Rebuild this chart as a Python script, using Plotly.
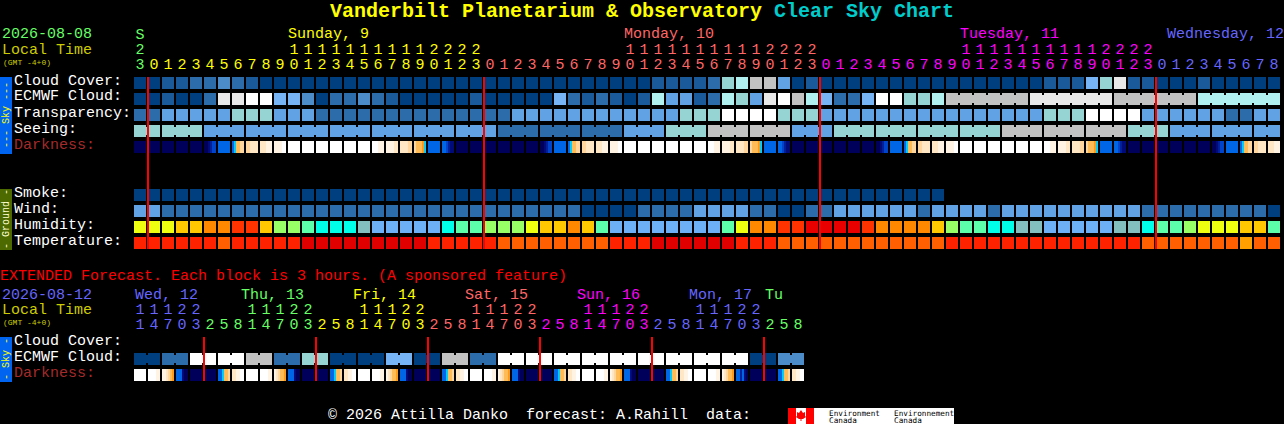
import plotly.graph_objects as go

W = 1284
H = 424
FONT = "Liberation Mono"

# colour codes used by the block rows
block_colors = {
    # cloud, transparency, seeing, wind, smoke
    "A": "#003f7f", "B": "#1a5a9a", "C": "#2c6cab", "D": "#4c8cc9", "E": "#60a2e4", "F": "#76b4f6",
    "G": "#96d3d3", "H": "#b0f0f0", "I": "#c2c2c2", "J": "#e8e8e8", "K": "#ffffff",
    # humidity
    "Y": "#eeff10", "O": "#ffc800", "R": "#ff8800", "S": "#ff3300", "T": "#e80000",
    "L": "#99ff66", "M": "#5cffaa", "N": "#00ffe8", "P": "#84bfbf", "Q": "#6db0f6",
    # temperature
    "a": "#e00000", "b": "#ff2200", "c": "#ff5f00", "d": "#ff9f00",
}
dark_levels = ["#00005a", "#000a78", "#00209a", "#0044cc", "#0066e6", "#00ccff",
               "#ff9a1a", "#ffbb55", "#ffd79e", "#ffe6c4", "#fff4e4", "#ffffff"]

# hourly rows, one letter per hour, 82 hours
cloud_cover = ("AABBCCDCBA" "AAAAAAAAAA" "AAAAAAAAAA" "AAAAAAABBB" "BCGHIIEABA"
               "AAAAAAAAAA" "AAAAABBBFG" "JBBAAABAAAAA")
ecmwf_cloud = ("AABAACJJKK" "FFDACCDCBA" "AAAABAAAAA" "FCBCBABHEE" "BCHGEJKIHF"
               "CCFKKGGH" "IIIIII" "JJJJJJ" "IIIIII" "HHHHHH")
transparency = ("CCEEEEEGGG" "EEECCCCCCC" "CCCCCCCEEE" "EEEEEEEEEG" "GGKKKKGGGE"
                "EEEEEEEEEE" "EEEEEGGGKK" "KKEEEEEECCEE")
seeing = ("GGGGG" "EEEEEEEEEEEEEEEEEEEEE" "CCCCCCCCC" "EEE" "GGG" "IIIIII" "EEE"
          "GGGGGGGGGGGG" "IIIIIIIII" "GGG" "EEEEEEEE")
smoke = "A" * 58 + "." * 24
wind = ("EE" "CCCCCCCCCCCCCCCCCCCCCCCCCCCCCC" "AAAA" "CCCC" "EEEE" "CC" "AA" "CC"
        "EEEEEE" "C" "EEEE" "C" "EEEEEEEEEE" "CCCCCCCCC" "A")
humidity = ("YYYOORRSSO" "LLMNNNPQQQ" "QQNMMLLLYO" "OROMQQQQQQ" "QQMYRRSSTT"
            "TTSRRRROLM" "MNNPPQQQQQ" "PPNMMLYYYOOM")
temperature = ("bbbbbb" "c" "bbbbb" "aaaaaaaaa" "bbbbb" "cccccccc" "bbb" "aaaaaa" "bbb"
               "cccccccccccc" "bbbbbbbbbbbbbb" "ccccccc" "d" "cc")

# darkness, six shades per hour block (hex index into dark_levels)
darkness = [
    "000000", "000000", "000000", "000000", "000000", "001233", "444444", "457788",
    "889999", "999aaa", "aaaabb", "bbbbbb", "bbbbbb", "bbbbbb", "bbbbbb", "bbbbbb",
    "bbbbbb", "bbbaaa", "aaaa99", "999988", "877765", "444444", "443211", "000000",
    "000000", "000000", "000000", "000000", "000000", "001233", "444444", "457788",
    "889999", "999aaa", "aaaabb", "bbbbbb", "bbbbbb", "bbbbbb", "bbbbbb", "bbbbbb",
    "bbbbbb", "bbbaaa", "aaaa99", "999988", "877765", "444444", "443211", "000000",
    "000000", "000000", "000000", "000000", "000000", "001233", "444444", "457788",
    "889999", "999aaa", "aaaabb", "bbbbbb", "bbbbbb", "bbbbbb", "bbbbbb", "bbbbbb",
    "bbbbbb", "bbbaaa", "aaaa99", "999988", "877765", "444444", "443211", "000000",
    "000000", "000000", "000000", "000000", "000000", "001233", "444444", "457788",
    "889999", "999aaa",
]

# extended forecast, 3 hour blocks, 48 of them
ext_ecmwf = "AACCKKKKIICCGGAAAAFFAAIICC" "KKKKKKKKKKKKKKKKKK" "AADD"
ext_darkness = [
    "bbbbbb", "bbbbaa", "aa9876", "444100", "000000", "000000", "445778", "99aabb",
    "bbbbbb", "bbbbaa", "a98776", "444100", "000000", "000000", "445778", "99aabb",
    "bbbbbb", "bbbbaa", "a98776", "444100", "000000", "000000", "445778", "99aabb",
    "bbbbbb", "bbbbaa", "a98776", "444100", "000000", "000000", "445778", "99aabb",
    "bbbbbb", "bbbbaa", "a98776", "444100", "000000", "000000", "445778", "99aabb",
    "bbbbbb", "bbbbaa", "a98776", "442410", "000000", "000000", "445778", "99aabb",
]

# first hour of the merged blocks in the seeing and ecmwf rows
seeing_groups = [0, 2, 5, 8, 11, 14, 17, 20, 23, 26, 29, 32, 35, 38, 41, 44, 47, 50, 53, 56, 59, 62, 65, 68, 71, 74, 77, 80, 82]
ecmwf_groups = [58, 64, 70, 76, 82]
ext_groups = [0, 2, 4, 6, 8, 10, 12, 14, 16, 18, 20, 22, 24, 26, 28, 30, 32, 34, 36, 38, 40, 42, 44, 46, 48]

# hour labels
hour_tens = ("2" "          " "1111111111" "2222" "          " "1111111111" "2222"
             "          " "1111111111" "2222" "         ")
hour_units = ("3" "012345678901234567890123" "012345678901234567890123"
              "012345678901234567890123" "012345678")
ext_tens = "11122   11122   11122   11122   11122   11122   "
ext_units = "14703" "25814703" "25814703" "25814703" "25814703" "25814703" "258"

GREEN = "#66ff66"
YELLOW = "#ffff00"
SALMON = "#ff6666"
MAGENTA = "#ff00ff"
BLUE = "#6666ff"
OLIVE_TEXT = "#cccc00"
BROWN = "#a52a2a"

hour_colors = [GREEN] + [YELLOW] * 24 + [SALMON] * 24 + [MAGENTA] * 24 + [BLUE] * 9
ext_colors = [BLUE] * 5 + [GREEN] * 8 + [YELLOW] * 8 + [SALMON] * 8 + [MAGENTA] * 8 + [BLUE] * 8 + [GREEN] * 3

# midnight marks, in hour blocks
midnight_cols = [0.571, 24.571, 48.571, 72.571]
ext_midnight_cols = [4.571, 12.571, 20.571, 28.571, 36.571, 44.571]

main_rows = [
    (0, cloud_cover), (1, ecmwf_cloud), (2, transparency), (3, seeing),
    (7, smoke), (8, wind), (9, humidity), (10, temperature),
]

for _, row in main_rows:
    assert len(row) == 82
assert len(hour_tens) == 82 and len(hour_units) == 82 and len(darkness) == 82
assert len(ext_ecmwf) == 48 and len(ext_units) == 48 and len(ext_darkness) == 48


def stepped_scale(colors):
    n = len(colors)
    scale = []
    for k, c in enumerate(colors):
        scale.append([k / n, c])
        scale.append([(k + 1) / n, c])
    return scale


letters = list(block_colors)
block_scale = stepped_scale([block_colors[k] for k in letters])
dark_scale = stepped_scale(dark_levels)


def block_z(row):
    return [None if c == "." else letters.index(c) + 0.5 for c in row]


def dark_z(cells):
    # every block is 6 shades of 2px, then one empty 2px gap
    z = []
    for cell in cells:
        z += [int(c, 16) + 0.5 for c in cell] + [None]
    return z


def px_x(x):
    return x / W


def px_y(y):
    return 1 - y / H


fig = go.Figure()

# block rows, row pitch 16px and hour pitch 14px
n_rows = 11
z = [[None] * 82 for _ in range(n_rows)]
for r, row in main_rows:
    z[r] = block_z(row)
fig.add_trace(go.Heatmap(
    z=z, x=list(range(82)), y=list(range(n_rows)), xgap=2, ygap=4, colorscale=block_scale,
    zmin=0, zmax=len(letters), showscale=False, hoverinfo="skip",
))
fig.add_trace(go.Heatmap(
    z=[block_z(ext_ecmwf)], x=list(range(48)), y0=17.25, dy=1, xgap=2, ygap=4, colorscale=block_scale,
    zmin=0, zmax=len(letters), showscale=False, hoverinfo="skip",
))

# darkness rows with the shades inside each block
for cells, y in [(darkness, 4), (ext_darkness, 18.25)]:
    fig.add_trace(go.Heatmap(
        z=[dark_z(cells)], x0=-5 / 14, dx=2 / 14, y0=y, dy=0.75, colorscale=dark_scale,
        zmin=0, zmax=len(dark_levels), showscale=False, hoverinfo="skip",
    ))


# merged blocks are joined by a narrow bridge
def add_bridges(row, y, groups):
    for first, last in zip(groups[:-1], groups[1:]):
        if last - first > 1:
            fig.add_trace(go.Scatter(
                x=[first, last - 1], y=[y, y], mode="lines",
                line=dict(color=block_colors[row[first]], width=8),
                hoverinfo="skip", showlegend=False,
            ))


add_bridges(seeing, 3, seeing_groups)
add_bridges(ecmwf_cloud, 1, ecmwf_groups)
add_bridges(ext_ecmwf, 17.25, ext_groups)

# red midnight lines
for cols, y0, y1 in [(midnight_cols, -0.375, 10.375), (ext_midnight_cols, 15.875, 18.625)]:
    xs, ys = [], []
    for c in cols:
        xs += [c, c, None]
        ys += [y0, y1, None]
    fig.add_trace(go.Scatter(x=xs, y=ys, mode="lines", line=dict(color="#ff0000", width=2),
                             hoverinfo="skip", showlegend=False))


# hour digits over the columns
def add_digits(text, colors, y):
    fig.add_trace(go.Scatter(
        x=list(range(len(text))), y=[y] * len(text), mode="text", text=list(text),
        textposition="middle center",
        textfont=dict(family=FONT, size=15, color=colors),
        hoverinfo="skip", showlegend=False,
    ))


add_digits(["S"] + [" "] * 81, hour_colors, -3)
add_digits(hour_tens, hour_colors, -2.06)
add_digits(hour_units, hour_colors, -1.125)
add_digits(ext_tens, ext_colors, 14.19)
add_digits(ext_units, ext_colors, 15.125)


def label(x, y, text, color="#ffffff", size=15, bold=False, family=FONT):
    if bold:
        text = f"<b>{text}</b>"
    fig.add_annotation(
        xref="paper", yref="paper", x=px_x(x), y=px_y(y), text=text, showarrow=False,
        xanchor="left", yanchor="middle", borderpad=0, borderwidth=0,
        font=dict(family=family, size=size, color=color),
    )


label(330, 12, "Vanderbilt Planetarium &amp; Observatory", YELLOW, 20, True)
label(774, 12, "Clear Sky Chart", "#00cccc", 20, True)

label(2, 35, "2026-08-08", GREEN)
label(2, 50, "Local Time", OLIVE_TEXT)
label(3, 62, "(GMT -4+0)", OLIVE_TEXT, 8)
label(288, 35, "Sunday, 9", YELLOW)
label(624, 35, "Monday, 10", SALMON)
label(960, 35, "Tuesday, 11", MAGENTA)
label(1167, 35, "Wednesday, 12", BLUE)

label(14, 81, "Cloud Cover:")
label(14, 97, "ECMWF Cloud:")
label(14, 113, "Transparency:")
label(14, 129, "Seeing:")
label(14, 145, "Darkness:", BROWN)
label(14, 193, "Smoke:")
label(14, 209, "Wind:")
label(14, 225, "Humidity:")
label(14, 241, "Temperature:")

label(0, 276, "EXTENDED Forecast. Each block is 3 hours. (A sponsored feature)", "#ff0000")
label(2, 295, "2026-08-12", BLUE)
label(2, 310, "Local Time", OLIVE_TEXT)
label(3, 322, "(GMT -4+0)", OLIVE_TEXT, 8)
label(135, 295, "Wed, 12", BLUE)
label(241, 295, "Thu, 13", GREEN)
label(353, 295, "Fri, 14", YELLOW)
label(465, 295, "Sat, 15", SALMON)
label(577, 295, "Sun, 16", MAGENTA)
label(689, 295, "Mon, 17", BLUE)
label(765, 295, "Tu", GREEN)
label(14, 341, "Cloud Cover:")
label(14, 357, "ECMWF Cloud:")
label(14, 373, "Darkness:", BROWN)

label(328, 415, "© 2026 Attilla Danko\u00a0\u00a0forecast: A.Rahill\u00a0\u00a0data:")

# side strips
shapes = []
for y0, y1, color in [(77, 154, "#0064f0"), (189, 250, "#4c6a00"), (337, 382, "#0064f0")]:
    shapes.append(dict(type="rect", xref="paper", yref="paper", x0=0, x1=px_x(12),
                       y0=px_y(y1), y1=px_y(y0), fillcolor=color, line_width=0))

# environment canada logo
shapes.append(dict(type="rect", xref="paper", yref="paper", x0=px_x(788), x1=px_x(954),
                   y0=px_y(424), y1=px_y(408), fillcolor="#ffffff", line_width=0))
for x0, x1 in [(788, 796), (806, 814)]:
    shapes.append(dict(type="rect", xref="paper", yref="paper", x0=px_x(x0), x1=px_x(x1),
                       y0=px_y(424), y1=px_y(408), fillcolor="#ff0000", line_width=0))
leaf = [(801, 410), (803, 413), (805, 412), (805, 416), (806, 417), (803, 419), (801.5, 419),
        (801.5, 421), (800.5, 421), (800.5, 419), (799, 419), (796, 417), (797, 416), (797, 412),
        (799, 413)]
path = "M " + " L ".join(f"{px_x(x):.5f},{px_y(y):.5f}" for x, y in leaf) + " Z"
shapes.append(dict(type="path", xref="paper", yref="paper", path=path, fillcolor="#ff0000", line_width=0))

for x, y, text in [(829, 413, "Environment"), (829, 420, "Canada"),
                   (894, 413, "Environnement"), (894, 420, "Canada")]:
    label(x, y, text, "#000000", 7.7, family="DejaVu Sans Mono")

for y, text, color in [(115, "--- Sky ---", YELLOW), (219, "- Ground -", "#ffffcc"), (359, "- Sky -", YELLOW)]:
    fig.add_annotation(
        xref="paper", yref="paper", x=px_x(6), y=px_y(y), text=text, showarrow=False,
        textangle=-90, xanchor="center", yanchor="middle",
        font=dict(family=FONT, size=10, color=color),
    )

# x is the hour block (block 0 centred on 140px), y the row (row 0 centred on 83px)
fig.update_layout(
    width=W, height=H, margin=dict(l=0, r=0, t=0, b=0, pad=0), showlegend=False,
    paper_bgcolor="#000000", plot_bgcolor="#000000", shapes=shapes,
    xaxis=dict(range=[-140 / 14, (W - 140) / 14], visible=False, fixedrange=True),
    yaxis=dict(range=[(H - 83) / 16, -83 / 16], visible=False, fixedrange=True),
)

fig.write_html("out.html", config={"displayModeBar": False},
               post_script="document.body.style.margin='0';document.body.style.background='#000';")
